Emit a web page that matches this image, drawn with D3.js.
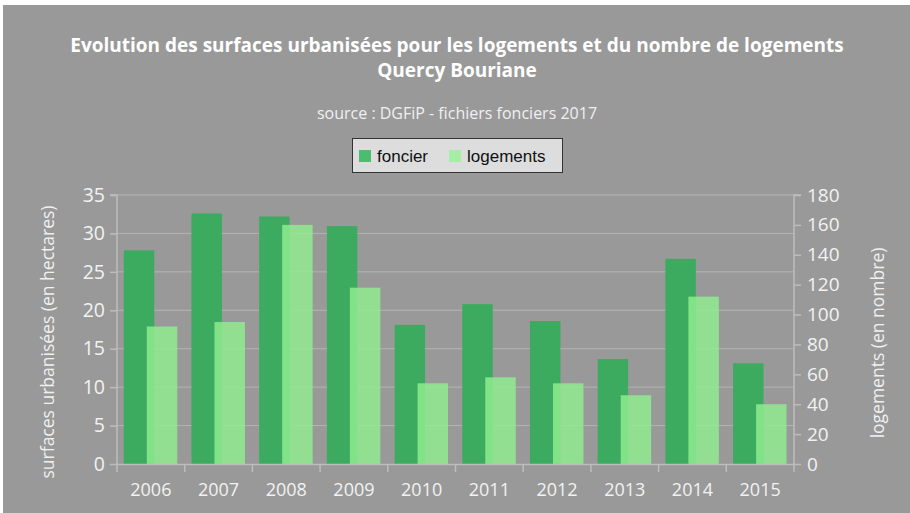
<!DOCTYPE html>
<html>
<head>
<meta charset="utf-8">
<script src="https://cdn.jsdelivr.net/npm/d3@7"></script>
<style>
  body { margin: 0; background: #fff; }
  svg { display: block; }
  text { font-family: "Open Sans", "Noto Sans", sans-serif; }
</style>
</head>
<body>
<script>
const WIDTH = 910;
const HEIGHT = 513;

// données
const annees = ['2006', '2007', '2008', '2009', '2010', '2011', '2012', '2013', '2014', '2015'];
const foncier = [27.8, 32.6, 32.2, 30.95, 18.1, 20.8, 18.6, 13.65, 26.7, 13.1];
const logements = [92, 95, 160, 118, 54, 58, 54, 46, 112, 40];
const ticksGauche = [0, 5, 10, 15, 20, 25, 30, 35];
const ticksDroite = [0, 20, 40, 60, 80, 100, 120, 140, 160, 180];

const plot = { left: 117, right: 794, top: 195, bottom: 464 };

let svg = d3.select('body').append('svg')
    .attr('width', WIDTH)
    .attr('height', HEIGHT);

// fond gris
svg.append('rect')
    .attr('x', 3).attr('y', 5)
    .attr('width', WIDTH - 3).attr('height', HEIGHT - 5)
    .attr('fill', '#999999');

let x = d3.scaleBand()
    .domain(annees)
    .range([plot.left, plot.right]);

let yG = d3.scaleLinear().domain([0, 35]).range([plot.bottom, plot.top]);
let yD = d3.scaleLinear().domain([0, 180]).range([plot.bottom, plot.top]);

// grille horizontale
svg.append('g').selectAll('line')
    .data(ticksGauche.filter(d => d > 0))
    .join('line')
    .attr('x1', plot.left).attr('x2', plot.right)
    .attr('y1', d => yG(d)).attr('y2', d => yG(d))
    .attr('stroke', '#b4b4b4').attr('stroke-width', 1);

// barres
const bw = x.bandwidth() * 0.45;
svg.append('g').selectAll('rect')
    .data(foncier)
    .join('rect')
    .attr('x', (d, i) => x(annees[i]) + x.bandwidth() * 0.1)
    .attr('y', d => yG(d))
    .attr('width', bw)
    .attr('height', d => yG(0) - yG(d))
    .attr('fill', '#3dab5f');

svg.append('g').selectAll('rect')
    .data(logements)
    .join('rect')
    .attr('x', (d, i) => x(annees[i]) + x.bandwidth() * 0.44)
    .attr('y', d => yD(d))
    .attr('width', bw)
    .attr('height', d => yD(0) - yD(d))
    .attr('fill', 'rgba(144,238,144,0.82)');

// axes
const axisColor = '#bdbdbd';
const labelColor = '#f2f2f2';

let axG = svg.append('g')
    .attr('transform', `translate(${plot.left},0)`)
    .call(d3.axisLeft(yG).tickValues(ticksGauche).tickSize(7).tickPadding(5));
let axD = svg.append('g')
    .attr('transform', `translate(${plot.right},0)`)
    .call(d3.axisRight(yD).tickValues(ticksDroite).tickSize(7).tickPadding(6));
let axX = svg.append('g')
    .attr('transform', `translate(0,${plot.bottom})`)
    .call(d3.axisBottom(x).tickSize(0).tickPadding(19));

[axG, axD, axX].forEach(a => {
    a.select('.domain').attr('stroke', axisColor).attr('stroke-width', 1.5);
    a.selectAll('.tick line').attr('stroke', axisColor).attr('stroke-width', 1.5);
    a.selectAll('.tick text').attr('fill', labelColor).style('font-size', '19.5px');
});
axG.select('.domain').attr('d', `M-7,${plot.top}H0V${plot.bottom + 8}`);
axD.select('.domain').attr('d', `M7,${plot.top}H0V${plot.bottom + 8}`);
axD.selectAll('.tick text').style('font-size', '19px');
axX.selectAll('.tick text').style('font-size', '18px');

// traits de séparation des catégories sous l'axe x
svg.append('g').selectAll('line')
    .data(annees.slice(1))
    .join('line')
    .attr('x1', d => x(d)).attr('x2', d => x(d))
    .attr('y1', plot.bottom).attr('y2', plot.bottom + 8)
    .attr('stroke', axisColor).attr('stroke-width', 1.5);

// titres
svg.append('text')
    .attr('x', 457).attr('y', 52)
    .attr('text-anchor', 'middle')
    .attr('fill', '#fff')
    .style('font-size', '19px').style('font-weight', 'bold')
    .text('Evolution des surfaces urbanisées pour les logements et du nombre de logements');
svg.append('text')
    .attr('x', 457).attr('y', 77)
    .attr('text-anchor', 'middle')
    .attr('fill', '#fff')
    .style('font-size', '19px').style('font-weight', 'bold')
    .text('Quercy Bouriane');
svg.append('text')
    .attr('x', 457).attr('y', 119)
    .attr('text-anchor', 'middle')
    .attr('fill', '#f0f0f0')
    .style('font-size', '16px')
    .text('source : DGFiP - fichiers fonciers 2017');

// titres des axes
svg.append('text')
    .attr('transform', 'translate(54,342) rotate(-90)')
    .attr('text-anchor', 'middle')
    .attr('fill', '#f0f0f0')
    .style('font-size', '17.5px')
    .text('surfaces urbanisées (en hectares)');
svg.append('text')
    .attr('transform', 'translate(884,343) rotate(-90)')
    .attr('text-anchor', 'middle')
    .attr('fill', '#f0f0f0')
    .style('font-size', '17.5px')
    .text('logements (en nombre)');

// légende
let leg = svg.append('g');
leg.append('rect')
    .attr('x', 352.5).attr('y', 138.5)
    .attr('width', 210).attr('height', 34)
    .attr('fill', '#dddddd').attr('stroke', '#333').attr('stroke-width', 1);
const items = [
    { nom: 'foncier', couleur: '#4cbc6e', x: 359 },
    { nom: 'logements', couleur: '#a6eea6', x: 449 }
];
items.forEach(it => {
    leg.append('rect')
        .attr('x', it.x).attr('y', 150)
        .attr('width', 12).attr('height', 12)
        .attr('fill', it.couleur);
    leg.append('text')
        .attr('x', it.x + 18).attr('y', 162)
        .attr('fill', '#111')
        .style('font-family', '"Liberation Sans", Arial, sans-serif')
        .style('font-size', '17px')
        .text(it.nom);
});
</script>
</body>
</html>
